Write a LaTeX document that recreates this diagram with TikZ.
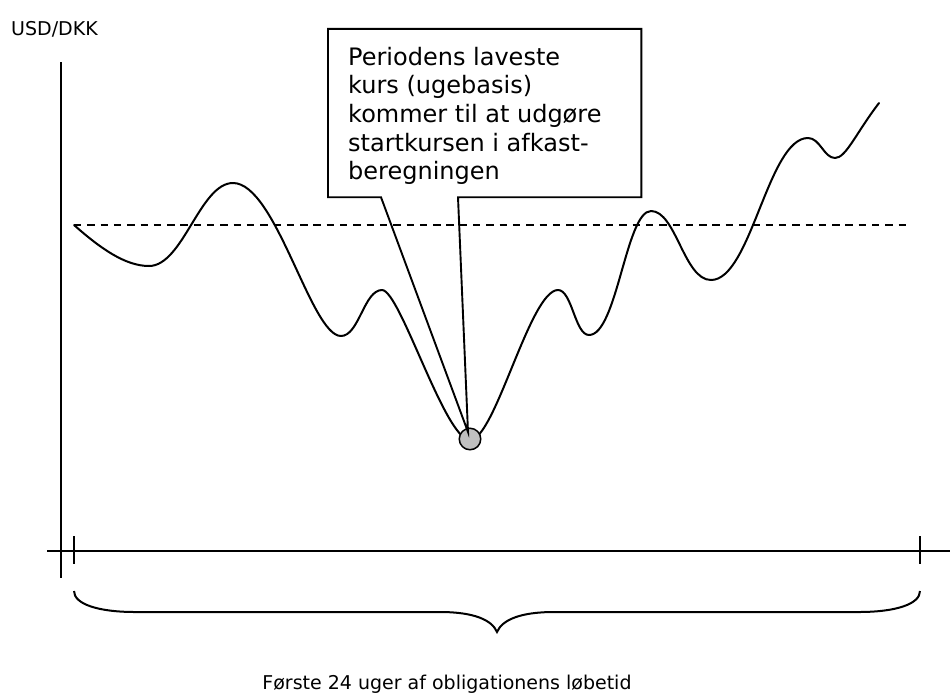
\documentclass[tikz,border=0pt]{standalone}
\usepackage{fontspec}
\setmainfont{DejaVu Sans}
\usetikzlibrary{calc}
\definecolor{dotgray}{RGB}{192,192,192}
\tikzset{
  rate/.style={line width=2pt, line join=round, line cap=round},
  axisline/.style={line width=2pt},
  tickline/.style={line width=1.5pt},
  refline/.style={line width=2.2pt, dash pattern=on 7.4pt off 5.9pt},
  calloutline/.style={line width=1.9pt, line join=miter},
  bracestyle/.style={line width=2pt},
  lowdot/.style={circle, draw, line width=1.5pt, fill=dotgray, minimum size=21.5pt, inner sep=0pt},
  boxtext/.style={inner xsep=20pt, inner ysep=0pt, text height=36pt, text depth=132pt,
    font=\fontsize{24}{28.7}\selectfont},
  smalllabel/.style={inner sep=0pt, font=\fontsize{19}{23}\selectfont},
  periodlabel/.style={inner sep=0pt, font=\fontsize{19}{23}\selectfont}
}
\begin{document}
\begin{tikzpicture}[x=1pt,y=-1pt]
\useasboundingbox (0,0) rectangle (950,697);
% axis label
\node[smalllabel, anchor=base west] (ylabel) at (11,35) {USD/DKK};
% axes
\draw[axisline] (61,62) -- (61,578);
\draw[axisline] (47,551) -- (950,551);
\draw[tickline] (74,536) -- (74,564);
\draw[tickline] (920,536) -- (920,564);
% rate curve
\draw[rate] (74,225)
  .. controls (100,248) and (125,266) .. (149,266)
  .. controls (183,266) and (200,183) .. (233,183)
  .. controls (276,183) and (311,336) .. (341,336)
  .. controls (359,336) and (364,290) .. (382,290)
  .. controls (400,290) and (445,440) .. (470,440)
  .. controls (495,440) and (530,290) .. (558,290)
  .. controls (572,290) and (575,335) .. (589,335)
  .. controls (617,335) and (626,211) .. (651,211)
  .. controls (676,211) and (684,280) .. (711,280)
  .. controls (751,280) and (768,138) .. (808,138)
  .. controls (820,138) and (824,158) .. (835,158)
  .. controls (846,158) and (856,133) .. (879,103);
% reference level
\draw[refline] (74,225) -- (907,225);
% lowest point
\node[lowdot] (dot) at (470,439) {};
\coordinate (tip) at ($(dot.center)+(-2,-7)$);
% callout
\node[boxtext, anchor=base west] (box) at (328,65)
  {\makebox[273pt][l]{\vtop{\hbox{Periodens laveste}\hbox{kurs (ugebasis)}\hbox{kommer til at udgøre}\hbox{startkursen i afkast-}\hbox{beregningen}}}};
\draw[calloutline] (box.south west) -- (box.north west) -- (box.north east) -- (box.south east)
  -- ([xshift=130pt]box.south west) -- (tip) -- ([xshift=53pt]box.south west) -- cycle;
% brace
\draw[bracestyle] (74,591)
  .. controls (74,604) and (98,612) .. (135,612) -- (440,612)
  .. controls (474,612) and (492,620) .. (497,632)
  .. controls (502,620) and (520,612) .. (554,612) -- (859,612)
  .. controls (896,612) and (920,604) .. (920,591);
\node[periodlabel, anchor=base] (period) at (447,689) {Første 24 uger af obligationens løbetid};
\end{tikzpicture}
\end{document}
